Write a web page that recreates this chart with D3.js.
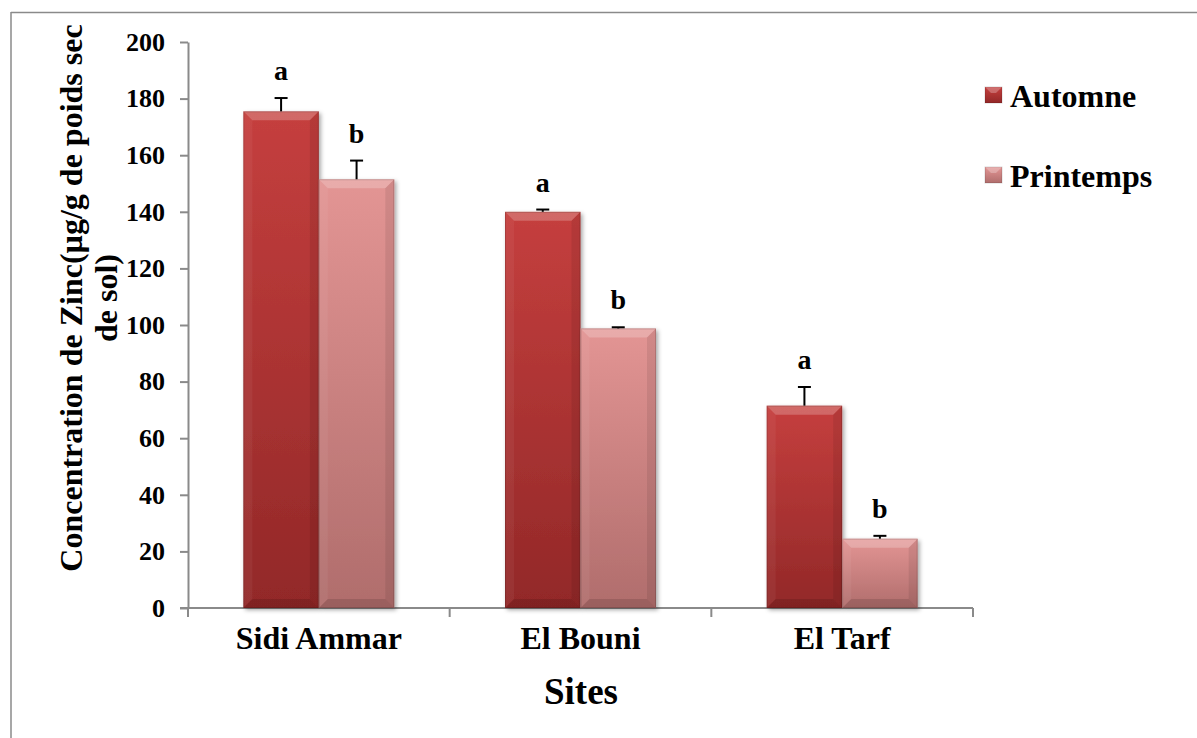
<!DOCTYPE html>
<html>
<head>
<meta charset="utf-8">
<script src="https://cdn.jsdelivr.net/npm/d3@7"></script>
<style>
  html, body { margin: 0; padding: 0; background: #fff; }
  svg { display: block; }
  svg text { font-family: "Times New Roman", Times, "Liberation Serif", "DejaVu Serif", serif !important; font-weight: bold; fill: #000; }
</style>
</head>
<body>
<svg id="chart" width="1197" height="738"></svg>
<script>
// Zinc concentration in soil per site and season
const sites = ["Sidi Ammar", "El Bouni", "El Tarf"];
const seasons = ["Automne", "Printemps"];
const automne = [175.5, 140.0, 71.5];
const printemps = [151.5, 98.8, 24.5];
const automneErr = [4.7, 0.8, 6.6];
const printempsErr = [6.6, 0.4, 1.0];
const automneLetters = ["a", "a", "a"];
const printempsLetters = ["b", "b", "b"];
const yTicks = [0, 20, 40, 60, 80, 100, 120, 140, 160, 180, 200];

const FONT = '"Times New Roman", Times, "Liberation Serif", "DejaVu Serif", serif';

const palette = {
  Automne:   { top: "#c53f3e", bottom: "#922828" },
  Printemps: { top: "#e39594", bottom: "#b06d6c" }
};

const rows = sites.map((s, i) => ({
  site: s,
  bars: [
    { key: "Automne", value: automne[i], err: automneErr[i], letter: automneLetters[i] },
    { key: "Printemps", value: printemps[i], err: printempsErr[i], letter: printempsLetters[i] }
  ]
}));

const svg = d3.select("#chart").attr("font-family", FONT).attr("font-weight", "bold");
const defs = svg.append("defs");

// frame lines
svg.append("line").attr("x1", 11).attr("x2", 1197).attr("y1", 12.5).attr("y2", 12.5)
  .attr("stroke", "#8a8a8a").attr("stroke-width", 1.5);
svg.append("line").attr("x1", 11).attr("x2", 11).attr("y1", 12).attr("y2", 738)
  .attr("stroke", "#8a8a8a").attr("stroke-width", 1.5);

// gradients and shadow
seasons.forEach(k => {
  const g = defs.append("linearGradient").attr("id", "grad-" + k)
    .attr("x1", 0).attr("x2", 0).attr("y1", 0).attr("y2", 1);
  g.append("stop").attr("offset", "0%").attr("stop-color", palette[k].top);
  g.append("stop").attr("offset", "100%").attr("stop-color", palette[k].bottom);
});
const f = defs.append("filter").attr("id", "shadow")
  .attr("x", "-10%").attr("y", "-10%").attr("width", "130%").attr("height", "130%");
f.append("feDropShadow").attr("dx", 2).attr("dy", 2).attr("stdDeviation", 2)
  .attr("flood-color", "#000").attr("flood-opacity", 0.35);

const x0 = d3.scaleBand().domain(sites).range([188, 973]).paddingInner(0.423).paddingOuter(0.2115);
const x1 = d3.scaleBand().domain(seasons).range([0, x0.bandwidth()]);
const y = d3.scaleLinear().domain([0, 200]).range([608, 42]);

// y axis
const yAxis = svg.append("g").attr("transform", "translate(188,0)")
  .call(d3.axisLeft(y).tickValues(yTicks).tickSize(8).tickPadding(15).tickSizeOuter(0));
yAxis.attr("font-family", FONT).attr("font-size", 26);
yAxis.select(".domain").attr("stroke", "#8a8a8a").attr("stroke-width", 2);
yAxis.selectAll(".tick line").attr("stroke", "#8a8a8a").attr("stroke-width", 2);
yAxis.selectAll(".tick text").attr("font-size", 26).attr("fill", "#000");

// x axis with ticks at category boundaries
const xAxisG = svg.append("g").attr("transform", "translate(0,608)");
xAxisG.append("line").attr("x1", 180).attr("x2", 973).attr("stroke", "#8a8a8a").attr("stroke-width", 2);
const bounds = [188].concat(sites.map(s => x0(s) + x0.bandwidth() / 2 + x0.step() / 2));
xAxisG.selectAll("line.tk").data(bounds).join("line").attr("class", "tk")
  .attr("x1", d => d).attr("x2", d => d).attr("y1", 0).attr("y2", 9)
  .attr("stroke", "#8a8a8a").attr("stroke-width", 2);
xAxisG.selectAll("text.cat").data(sites).join("text").attr("class", "cat")
  .attr("x", d => x0(d) + x0.bandwidth() / 2).attr("y", 41)
  .attr("text-anchor", "middle").attr("font-size", 32).text(d => d);

// bars
const groups = svg.append("g").selectAll("g").data(rows).join("g")
  .attr("transform", d => `translate(${x0(d.site)},0)`);

groups.each(function (row) {
  const g = d3.select(this);
  row.bars.forEach(b => {
    const bx = x1(b.key), bw = x1.bandwidth();
    const top = y(b.value), bot = y(0), h = bot - top;
    const bv = Math.min(9, h / 2);
    const bar = g.append("g");
    bar.append("rect").attr("x", bx).attr("y", top).attr("width", bw).attr("height", h)
      .attr("fill", `url(#grad-${b.key})`).attr("filter", "url(#shadow)");
    // bevel faces
    const L = bx, R = bx + bw, T = top, B = bot;
    bar.append("polygon").attr("points", [[L, T], [R, T], [R - bv, T + bv], [L + bv, T + bv]].join(" "))
      .attr("fill", "#fff").attr("fill-opacity", 0.22);
    bar.append("polygon").attr("points", [[L, T], [L + bv, T + bv], [L + bv, B - bv], [L, B]].join(" "))
      .attr("fill", "#fff").attr("fill-opacity", 0.05);
    bar.append("polygon").attr("points", [[R, T], [R - bv, T + bv], [R - bv, B - bv], [R, B]].join(" "))
      .attr("fill", "#000").attr("fill-opacity", 0.08);
    bar.append("polygon").attr("points", [[L, B], [L + bv, B - bv], [R - bv, B - bv], [R, B]].join(" "))
      .attr("fill", "#000").attr("fill-opacity", 0.12);
    bar.append("rect").attr("x", bx + 0.5).attr("y", top + 0.5).attr("width", bw - 1).attr("height", h - 1)
      .attr("fill", "none").attr("stroke", "#000").attr("stroke-opacity", 0.15);

    // upper error bar
    const cx = bx + bw / 2, ye = y(b.value + b.err);
    g.append("line").attr("x1", cx).attr("x2", cx).attr("y1", top).attr("y2", ye)
      .attr("stroke", "#000").attr("stroke-width", 2);
    g.append("line").attr("x1", cx - 6.5).attr("x2", cx + 6.5).attr("y1", ye).attr("y2", ye)
      .attr("stroke", "#000").attr("stroke-width", 2);

    // significance letter
    g.append("text").attr("x", cx).attr("y", ye - 18).attr("text-anchor", "middle")
      .attr("font-size", 28).text(b.letter);
  });
});

// axis titles
svg.append("text").attr("x", 581).attr("y", 704).attr("text-anchor", "middle")
  .attr("font-size", 37).text("Sites");
const yl = svg.append("text").attr("transform", "translate(82,298) rotate(-90)")
  .attr("text-anchor", "middle").attr("font-size", 32);
yl.append("tspan").attr("x", 0).attr("y", 0).text("Concentration de Zinc(µg/g de poids sec");
yl.append("tspan").attr("x", 0).attr("y", 35).text("de sol)");

// legend
const leg = svg.append("g").selectAll("g").data(seasons).join("g")
  .attr("transform", (d, i) => `translate(985,${87 + i * 80})`);
leg.append("rect").attr("width", 17).attr("height", 16).attr("fill", d => `url(#grad-${d})`)
  .attr("stroke", "#000").attr("stroke-opacity", 0.15);
leg.append("polygon").attr("points", "0,0 17,0 11,6 6,6").attr("fill", "#fff").attr("fill-opacity", 0.25);
leg.append("text").attr("x", 25).attr("y", 20).attr("font-size", 32).text(d => d);
</script>
</body>
</html>
